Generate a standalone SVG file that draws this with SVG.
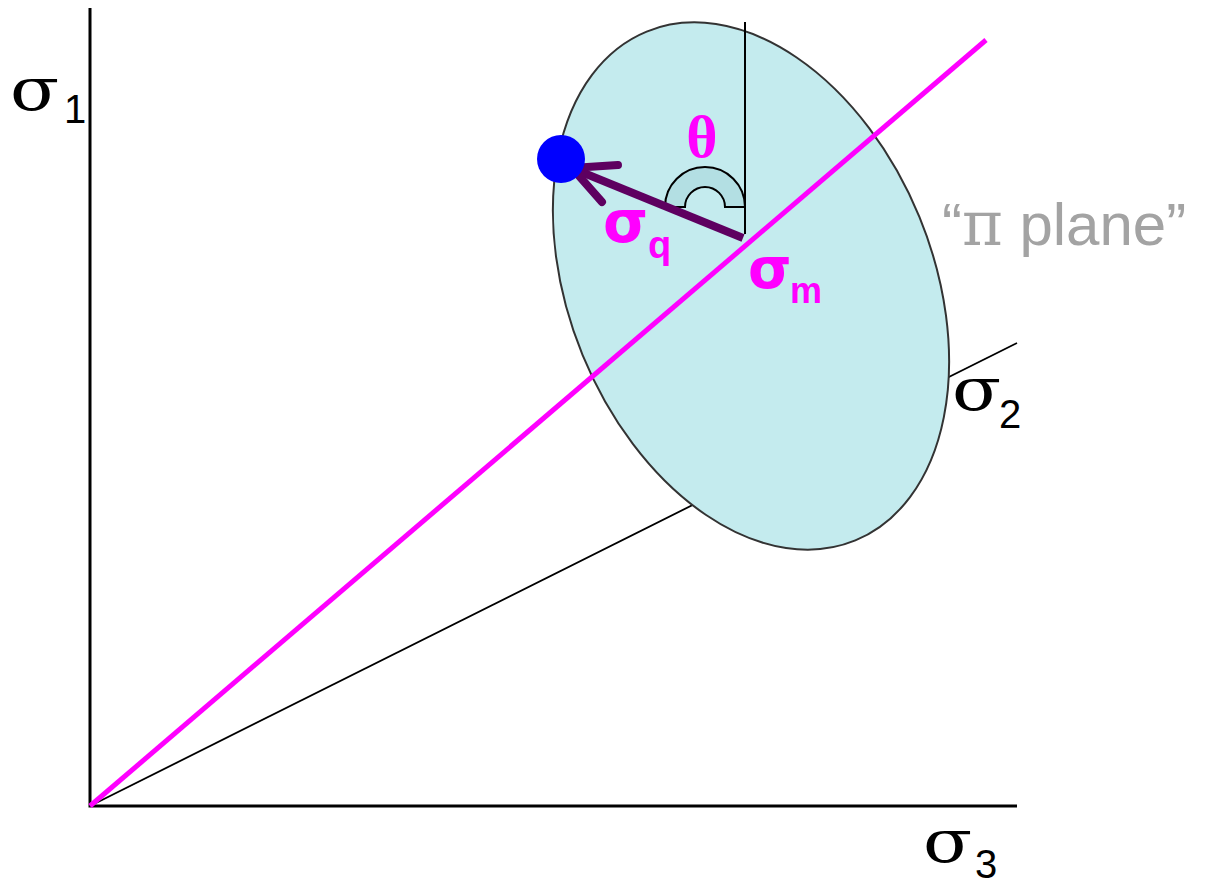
<svg xmlns="http://www.w3.org/2000/svg" width="1210" height="884" viewBox="0 0 1210 884">
<style>
.ax{stroke:#000;stroke-width:3;fill:none}
.thin{stroke:#000;stroke-width:1.8;fill:none}
.mag{stroke:#ff00ff;stroke-width:5;fill:none}
.sig{font-family:"DejaVu Serif",serif;fill:#000}
.sub{font-family:"Liberation Sans",sans-serif;fill:#000}
.msig{font-family:"DejaVu Sans",sans-serif;font-weight:bold;fill:#ff00ff}
.msub{font-family:"Liberation Sans",sans-serif;font-weight:bold;fill:#ff00ff}
</style>
<rect width="1210" height="884" fill="#fff"/>
<g id="connectors">
<path class="ax" d="M90,8 V806 H1017"/>
<line class="thin" x1="90" y1="806" x2="1017" y2="343"/>
</g>
<g id="pi-plane">
<ellipse cx="751" cy="286" rx="275" ry="182" transform="rotate(67.7 751 286)" fill="#c4ebee" stroke="#333" stroke-width="2"/>
</g>
<g id="hydrostatic-axis">
<line class="mag" x1="90" y1="806" x2="986" y2="40"/>
</g>
<g id="vertical-ref">
<line x1="745" y1="22" x2="745" y2="234" stroke="#000" stroke-width="2"/>
</g>
<g id="theta-arc">
<path d="M665,207 A40,40 0 0 1 745,207 H725 A20,20 0 0 0 685,207 Z" fill="#b3dfe3" stroke="#000" stroke-width="2"/>
<text x="702" y="157" font-family="Liberation Serif,serif" font-size="60" font-weight="bold" fill="#ff00ff" text-anchor="middle">θ</text>
</g>
<g id="sigma-q-arrow">
<line x1="743" y1="238" x2="574" y2="169" stroke="#5e0060" stroke-width="8" stroke-linecap="butt"/>
<polyline points="618,165 572,168 602,202" fill="none" stroke="#5e0060" stroke-width="8" stroke-linecap="round" stroke-linejoin="miter"/>
</g>
<g id="stress-point">
<circle cx="561" cy="159" r="24" fill="#0000ff"/>
</g>
<g id="labels">
<text class="msig" x="603" y="242" font-size="58">σ</text><text class="msub" x="648" y="258" font-size="38">q</text>
<text class="msig" x="748" y="288" font-size="56">σ</text><text class="msub" x="790" y="303" font-size="36">m</text>
<text class="sig" x="10" y="110" font-size="60" transform="translate(10 110) scale(1.2 1) translate(-10 -110)">σ</text><text class="sub" x="64" y="123" font-size="40">1</text>
<text class="sig" x="952" y="410" font-size="60" transform="translate(952 410) scale(1.2 1) translate(-952 -410)">σ</text><text class="sub" x="999" y="428" font-size="40">2</text>
<text class="sig" x="923" y="862" font-size="60" transform="translate(923 862) scale(1.2 1) translate(-923 -862)">σ</text><text class="sub" x="975" y="878" font-size="40">3</text>
<text x="942" y="245" font-family="Liberation Sans,sans-serif" font-size="60" fill="#a3a3a3">“<tspan font-family="DejaVu Serif,serif" font-size="62">π</tspan> plane”</text>
</g>
</svg>
